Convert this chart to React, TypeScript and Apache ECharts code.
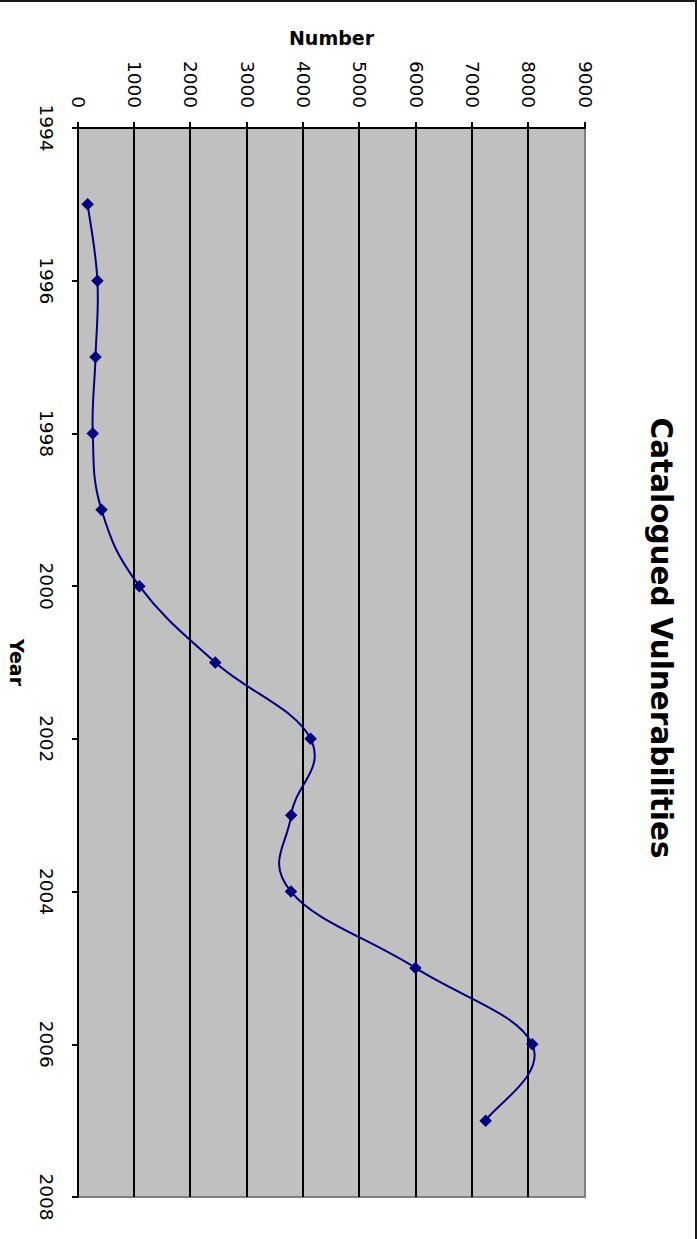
import React, { useEffect, useRef } from "react";
import * as echarts from "echarts";

// Catalogued vulnerabilities per year
const years = [1995, 1996, 1997, 1998, 1999, 2000, 2001, 2002, 2003, 2004, 2005, 2006, 2007];
const vulnerabilities = [171, 345, 311, 262, 417, 1090, 2437, 4129, 3784, 3780, 5990, 8064, 7236];

const yearMin = 1994;
const yearMax = 2008;
const yearStep = 2;
const numberMin = 0;
const numberMax = 9000;
const numberStep = 1000;

const PAGE_W = 697;
const PAGE_H = 1239;

const FONT = "DejaVu Sans, Verdana, sans-serif";
const LINE_COLOR = "#000080";
// Bezier handle length as a share of the neighbour-to-neighbour chord
const TENSION = 0.2;

const points = years.map((y, i) => [y, vulnerabilities[i]]);

export default function App() {
  const ref = useRef<HTMLDivElement>(null);

  useEffect(() => {
    document.body.style.margin = "0";
    document.body.style.overflow = "hidden";
    if (!ref.current) return;
    // The chart is laid out landscape and then turned a quarter clockwise.
    const chart = echarts.init(ref.current, null, {
      renderer: "svg",
      width: PAGE_H,
      height: PAGE_W,
    });

    // Smoothed segment from point i to point i+1 (cardinal spline)
    const renderSegment = (params: any, api: any) => {
      const i = params.dataIndex;
      const n = points.length;
      if (i >= n - 1) return null;
      const c = (k: number) => api.coord(points[Math.max(0, Math.min(n - 1, k))]);
      const p0 = c(i - 1);
      const p1 = c(i);
      const p2 = c(i + 1);
      const p3 = c(i + 2);
      return {
        type: "bezierCurve",
        shape: {
          x1: p1[0],
          y1: p1[1],
          x2: p2[0],
          y2: p2[1],
          cpx1: p1[0] + (p2[0] - p0[0]) * TENSION,
          cpy1: p1[1] + (p2[1] - p0[1]) * TENSION,
          cpx2: p2[0] - (p3[0] - p1[0]) * TENSION,
          cpy2: p2[1] - (p3[1] - p1[1]) * TENSION,
        },
        style: { stroke: LINE_COLOR, lineWidth: 2, fill: "none" },
      };
    };

    chart.setOption({
      animation: false,
      backgroundColor: "#ffffff",
      title: {
        text: "Catalogued Vulnerabilities",
        left: 638,
        textAlign: "center",
        top: 21,
        padding: 0,
        textStyle: {
          fontFamily: FONT,
          fontSize: 29.5,
          fontWeight: "bold",
          color: "#000",
        },
      },
      grid: {
        left: 128,
        right: 42,
        top: 112,
        bottom: 78,
        show: true,
        backgroundColor: "#c0c0c0",
        borderColor: "#808080",
        borderWidth: 2,
      },
      xAxis: {
        type: "value",
        min: yearMin,
        max: yearMax,
        interval: yearStep,
        position: "bottom",
        name: "Year",
        nameLocation: "middle",
        nameGap: 52,
        nameTextStyle: {
          fontFamily: FONT,
          fontSize: 19,
          fontWeight: "bold",
          color: "#000",
        },
        axisLine: { show: true, onZero: false, lineStyle: { color: "#000", width: 2 } },
        axisTick: { show: true, length: 6, lineStyle: { color: "#000", width: 2 } },
        axisLabel: {
          fontFamily: FONT,
          fontSize: 18.5,
          color: "#000",
          margin: 22,
          formatter: (v: number) => String(v),
        },
        splitLine: { show: false },
      },
      yAxis: {
        type: "value",
        min: numberMin,
        max: numberMax,
        interval: numberStep,
        name: "Number",
        nameLocation: "middle",
        nameGap: 81,
        nameTextStyle: {
          fontFamily: FONT,
          fontSize: 19,
          fontWeight: "bold",
          color: "#000",
        },
        axisLine: { show: true, lineStyle: { color: "#000", width: 2 } },
        axisTick: { show: true, length: 6, lineStyle: { color: "#000", width: 2 } },
        axisLabel: {
          fontFamily: FONT,
          fontSize: 18.5,
          color: "#000",
          margin: 20,
          formatter: (v: number) => String(v),
        },
        splitLine: {
          show: true,
          showMinLine: false,
          showMaxLine: false,
          lineStyle: { color: "#000", width: 2 },
        },
      },
      graphic: [
        {
          type: "line",
          shape: { x1: 1, y1: 0, x2: 1, y2: PAGE_W },
          style: { stroke: "#1a1a1a", lineWidth: 2 },
          silent: true,
        },
        {
          type: "line",
          shape: { x1: 0, y1: 1, x2: PAGE_H, y2: 1 },
          style: { stroke: "#1a1a1a", lineWidth: 2 },
          silent: true,
        },
      ],
      series: [
        {
          type: "custom",
          coordinateSystem: "cartesian2d",
          data: points,
          encode: { x: 0, y: 1 },
          renderItem: renderSegment,
          z: 2,
          silent: true,
        },
        {
          type: "scatter",
          data: points,
          symbol: "diamond",
          symbolSize: 12.5,
          itemStyle: { color: LINE_COLOR, opacity: 1 },
          z: 3,
        },
      ],
    });
    return () => chart.dispose();
  }, []);

  return (
    <div
      style={{
        position: "absolute",
        left: 0,
        top: 0,
        width: PAGE_W,
        height: PAGE_H,
        overflow: "hidden",
        background: "#fff",
      }}
    >
      <div
        ref={ref}
        style={{
          position: "absolute",
          left: 0,
          top: 0,
          width: PAGE_H,
          height: PAGE_W,
          transformOrigin: "0 0",
          transform: `translate(${PAGE_W}px, 0) rotate(90deg)`,
        }}
      />
    </div>
  );
}
